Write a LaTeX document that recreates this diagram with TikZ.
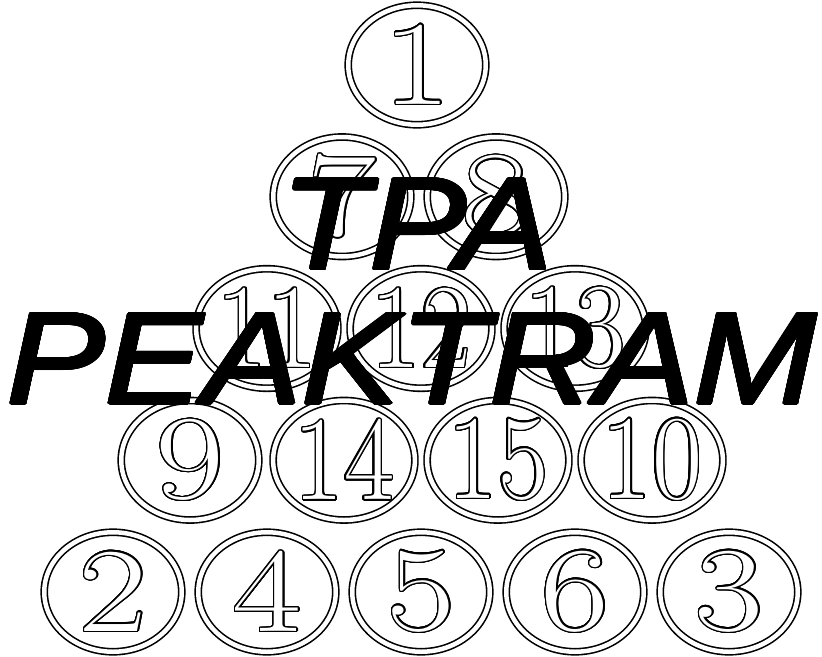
\documentclass[tikz,border=0pt]{standalone}
\usepackage{fontspec}
\usepackage[copies]{contour}
\usetikzlibrary{shapes.geometric}
\newfontfamily\bannerfont{Liberation Sans}
\contournumber{32}
% hollow digits for the balls
\newcommand{\ballnum}[1]{\scalebox{1.25}[1]{\contourlength{1.2pt}\contour{black}{\textcolor{white}{#1}}}}
\newcommand{\twonum}[1]{\scalebox{0.91}[1]{\contourlength{1.4pt}\contour{black}{\textcolor{white}{#1}}}}
% heavy slanted caption letters
\newcommand{\bannertext}[2][1]{\scalebox{#1}[0.9]{\contourlength{1.5pt}\contour{black}{#2}}}

\begin{document}
\begin{tikzpicture}[x=1pt,y=-1pt,
  ball/.style={ellipse,draw,double,double distance=4.5pt,line width=1.6pt,
    minimum width=137.5pt,minimum height=119.5pt,inner sep=0pt,
    font=\fontsize{120}{120}\selectfont},
  banner/.style={inner sep=0pt,font=\bannerfont\itshape\fontsize{145}{145}\selectfont}]
  \useasboundingbox (0,0) rectangle (822,656);
  % top
  \node[ball] (b1)  at (417,65)    {\ballnum{1}};
  % second row
  \node[ball] (b7)  at (342,196.75) {\ballnum{7}};
  \node[ball] (b8)  at (496,196.75) {\ballnum{8}};
  % third row
  \node[ball] (b11) at (267,328.5) {\twonum{11}};
  \node[ball] (b12) at (421,328.5) {\twonum{12}};
  \node[ball] (b13) at (575,328.5) {\twonum{13}};
  % fourth row
  \node[ball] (b9)  at (190,460.25) {\ballnum{9}};
  \node[ball] (b14) at (344,460.25) {\twonum{14}};
  \node[ball] (b15) at (498,460.25) {\twonum{15}};
  \node[ball] (b10) at (652,460.25) {\twonum{10}};
  % bottom row
  \node[ball] (b2)  at (113,592) {\ballnum{2}};
  \node[ball] (b4)  at (267,592) {\ballnum{4}};
  \node[ball] (b5)  at (421,592) {\ballnum{5}};
  \node[ball] (b6)  at (575,592) {\ballnum{6}};
  \node[ball] (b3)  at (729,592) {\ballnum{3}};
  % text on top
  \node[banner] (tpa)  at (417,225) {\bannertext{TPA}};
  \node[banner] (peak) at (412,359.5) {\bannertext[1.015]{PEAKTRAM}};
\end{tikzpicture}
\end{document}
